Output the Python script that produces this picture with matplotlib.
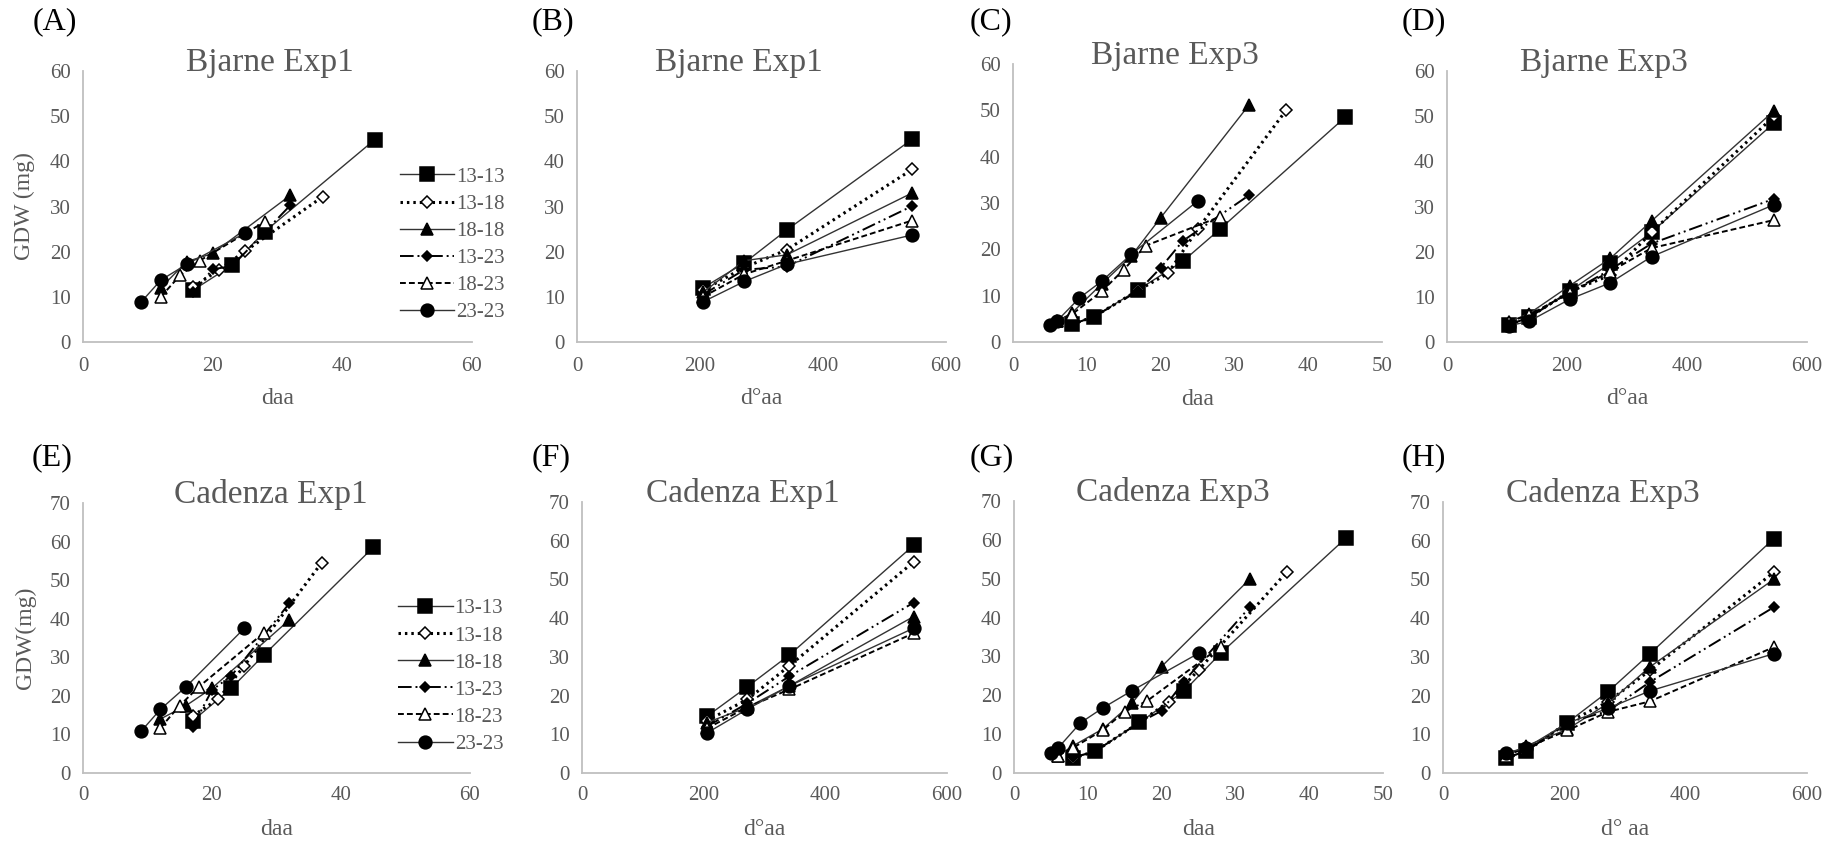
import matplotlib
matplotlib.use("Agg")
import matplotlib.pyplot as plt

plt.rcParams["font.family"] = ["Liberation Serif", "DejaVu Serif"]

W, H = 1836, 847
GREY = "#595959"
AXIS = "#bfbfbf"

series = ["13-13", "13-18", "18-18", "13-23", "18-23", "23-23"]

# sampling times in days after anthesis, one list per treatment
daa_exp1 = [
    [17, 23, 28, 45],
    [17, 21, 25, 37],
    [12, 16, 20, 32],
    [17, 20, 23, 32],
    [12, 15, 18, 28],
    [9, 12, 16, 25],
]
daa_exp3 = [
    [8, 11, 17, 23, 28, 45],
    [8, 11, 17, 21, 25, 37],
    [6, 8, 12, 16, 20, 32],
    [8, 11, 17, 20, 23, 32],
    [6, 8, 12, 15, 18, 28],
    [5, 6, 9, 12, 16, 25],
]
# thermal time (degree days after anthesis), shared by all treatments
dd_exp1 = [205, 272, 341, 545]
dd_exp3 = [104, 137, 205, 272, 341, 545]

# grain dry weight (mg), rows follow `series`
gdw_bjarne1_daa = [
    [11.5, 17.0, 24.4, 44.8],
    [12.2, 16.0, 20.1, 32.2],
    [12.0, 17.8, 19.6, 32.5],
    [11.0, 16.1, 16.8, 30.3],
    [10.0, 14.8, 18.0, 26.6],
    [8.9, 13.7, 17.2, 24.1],
]
gdw_bjarne1_dd = [
    [12.0, 17.5, 24.8, 44.9],
    [11.5, 16.5, 20.4, 38.2],
    [11.0, 18.0, 19.3, 33.0],
    [10.5, 16.0, 16.7, 30.1],
    [10.0, 15.0, 18.0, 26.9],
    [8.9, 13.4, 17.2, 23.7],
]
gdw_bjarne3 = [
    [3.8, 5.5, 11.3, 17.4, 24.3, 48.5],
    [3.8, 5.5, 11.2, 14.8, 24.3, 50.0],
    [4.5, 6.3, 12.5, 18.5, 26.8, 51.2],
    [3.8, 5.5, 11.0, 16.0, 21.8, 31.7],
    [4.5, 6.0, 10.9, 15.6, 20.8, 27.0],
    [3.6, 4.6, 9.5, 13.1, 18.9, 30.4],
]
gdw_cadenza1_daa = [
    [13.5, 22.0, 30.5, 58.5],
    [14.8, 19.2, 27.8, 54.5],
    [14.0, 17.5, 22.0, 39.7],
    [12.0, 21.5, 25.2, 44.0],
    [11.7, 17.5, 22.4, 36.3],
    [10.8, 16.5, 22.4, 37.5],
]
gdw_cadenza1_dd = [
    [14.6, 22.3, 30.5, 58.8],
    [13.5, 19.0, 27.7, 54.5],
    [13.0, 17.0, 22.5, 40.4],
    [12.0, 18.0, 25.0, 44.0],
    [11.5, 17.0, 21.6, 36.1],
    [10.3, 16.5, 22.5, 37.4],
]
gdw_cadenza3 = [
    [3.8, 5.6, 13.0, 21.0, 30.8, 60.5],
    [3.8, 5.6, 13.0, 18.4, 26.5, 51.8],
    [4.5, 7.0, 11.3, 18.0, 27.4, 50.0],
    [4.0, 5.6, 13.0, 16.0, 23.5, 42.8],
    [4.5, 6.5, 11.0, 15.8, 18.5, 32.5],
    [5.2, 6.5, 12.9, 16.7, 21.2, 30.8],
]

styles = [
    dict(ls="-", marker="s", mfc="black", ms=9.5, lw=1.0, color="#333333"),
    dict(ls=(0, (0.8, 1.3)), marker="D", mfc="white", ms=5.8, lw=2.2, color="black"),
    dict(ls="-", marker="^", mfc="black", ms=8.8, lw=1.0, color="#333333"),
    dict(ls=(0, (7, 2, 1, 2, 1, 2)), marker="D", mfc="black", ms=5.4, lw=1.4, color="black"),
    dict(ls=(0, (3, 1.6)), marker="^", mfc="white", ms=8.8, lw=1.4, color="black"),
    dict(ls="-", marker="o", mfc="black", ms=9.2, lw=1.0, color="#333333"),
]


def rect(l, r, t, b):
    return [l / W, 1 - b / H, (r - l) / W, (b - t) / H]


# (panel, title, title x, x per series, y, xmax, xstep, ymax, xlabel, ylabel, pixel box)
panels = [
    ("(A)", "Bjarne Exp1", 0.48, daa_exp1, gdw_bjarne1_daa, 60, 20, 60, "daa", "GDW (mg)", (83, 472, 71, 342)),
    ("(B)", "Bjarne Exp1", 0.44, dd_exp1, gdw_bjarne1_dd, 600, 200, 60, "d\u00b0aa", None, (577, 946, 71, 342)),
    ("(C)", "Bjarne Exp3", 0.44, daa_exp3, gdw_bjarne3, 50, 10, 60, "daa", None, (1013, 1382, 64, 342)),
    ("(D)", "Bjarne Exp3", 0.435, dd_exp3, gdw_bjarne3, 600, 200, 60, "d\u00b0aa", None, (1447, 1807, 71, 342)),
    ("(E)", "Cadenza Exp1", 0.485, daa_exp1, gdw_cadenza1_daa, 60, 20, 70, "daa", "GDW(mg)", (83, 470, 503, 773)),
    ("(F)", "Cadenza Exp1", 0.44, dd_exp1, gdw_cadenza1_dd, 600, 200, 70, "d\u00b0aa", None, (582, 947, 502, 773)),
    ("(G)", "Cadenza Exp3", 0.43, daa_exp3, gdw_cadenza3, 50, 10, 70, "daa", None, (1014, 1383, 501, 773)),
    ("(H)", "Cadenza Exp3", 0.44, dd_exp3, gdw_cadenza3, 600, 200, 70, "d\u00b0 aa", None, (1443, 1807, 502, 773)),
]

fig = plt.figure(figsize=(W / 100, H / 100), dpi=100)

for tag, title, tx, xs, ys, xmax, xstep, ymax, xlab, ylab, box in panels:
    ax = fig.add_axes(rect(*box))
    for i, name in enumerate(series):
        st = styles[i]
        x = xs[i] if isinstance(xs[0], list) else xs
        ax.plot(x, ys[i], linestyle=st["ls"], color=st["color"], lw=st["lw"],
                marker=st["marker"], ms=st["ms"], mfc=st["mfc"], mec="black",
                mew=1.1, label=name, clip_on=False)
    ax.set_xlim(0, xmax)
    ax.set_ylim(0, ymax)
    ax.set_xticks(range(0, xmax + 1, xstep))
    ax.set_yticks(range(0, ymax + 1, 10))
    for s in ("top", "right"):
        ax.spines[s].set_visible(False)
    for s in ("left", "bottom"):
        ax.spines[s].set_color(AXIS)
        ax.spines[s].set_linewidth(1.3)
    ax.tick_params(length=0, labelsize=15, labelcolor=GREY)
    ax.tick_params(axis="x", pad=11 if ymax == 60 else 9)
    ax.tick_params(axis="y", pad=9)
    ax.text(tx, 1.0, title, transform=ax.transAxes, ha="center", va="baseline",
            fontsize=24, color=GREY)
    ax.set_xlabel(xlab, fontsize=17, color=GREY)
    ax.xaxis.set_label_coords(0.5, -0.17)
    if ylab:
        ax.set_ylabel(ylab, fontsize=17, color=GREY, va="center")
        ax.yaxis.set_label_coords(-0.15, 0.5)
        leg = ax.legend(loc="upper left", bbox_to_anchor=(0.815, 0.645),
                        frameon=False, fontsize=15, numpoints=1,
                        handlelength=2.6, handletextpad=0.1, labelspacing=0.36,
                        borderpad=0, borderaxespad=0)
        for t in leg.get_texts():
            t.set_color(GREY)
    # panel letter
    left_px = {"(A)": 33, "(B)": 532, "(C)": 970, "(D)": 1402,
               "(E)": 32, "(F)": 532, "(G)": 970, "(H)": 1402}[tag]
    y_px = 22 if ymax == 60 else 458
    fig.text(left_px / W, 1 - y_px / H, tag, fontsize=23, color="black",
             ha="left", va="center")

fig.savefig("out.png", dpi=100)
